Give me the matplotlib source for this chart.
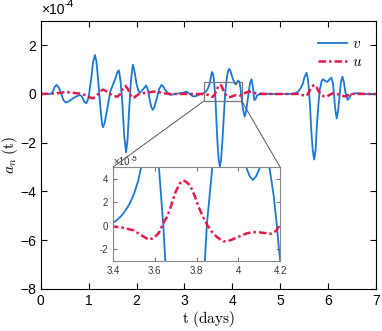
import matplotlib
matplotlib.use('Agg')
import matplotlib.pyplot as plt
from matplotlib.patches import Rectangle, ConnectionPatch

plt.rcParams['font.family'] = ['Liberation Sans', 'DejaVu Sans']
plt.rcParams['mathtext.fontset'] = 'cm'

# values, in units of 1e-4
t_v = [0.0, 0.2, 0.25, 0.29, 0.33, 0.37, 0.42, 0.47, 0.52, 0.57, 0.62, 0.72, 0.8, 0.84,
       0.87, 0.91, 0.95, 0.98, 1.0, 1.05, 1.09, 1.13, 1.16, 1.2, 1.25, 1.28, 1.30, 1.33,
       1.37, 1.45, 1.55, 1.60, 1.63, 1.66, 1.70, 1.74, 1.78, 1.81, 1.84, 1.88, 1.92, 1.95,
       2.0, 2.04, 2.07, 2.14, 2.20, 2.24, 2.27, 2.31, 2.34, 2.37, 2.42, 2.47, 2.52, 2.56,
       2.60, 2.70, 2.8, 2.9, 2.97, 3.04, 3.11, 3.18, 3.25, 3.33,
       3.40, 3.42, 3.44, 3.46, 3.48, 3.50, 3.52, 3.535, 3.56, 3.58, 3.60, 3.62, 3.64, 3.65,
       3.67, 3.69, 3.715, 3.74, 3.765, 3.79, 3.815, 3.84, 3.85, 3.875, 3.90, 3.93, 3.96,
       3.99, 4.02, 4.04, 4.055, 4.07, 4.085, 4.10, 4.12, 4.15, 4.17, 4.185, 4.195,
       4.22, 4.26, 4.29, 4.33, 4.37, 4.40, 4.43, 4.46, 4.49, 4.52, 4.6, 4.8, 5.0, 5.2,
       5.3, 5.38, 5.43, 5.47, 5.51, 5.55, 5.58, 5.60, 5.63, 5.65, 5.68, 5.71, 5.74, 5.77,
       5.80, 5.83, 5.87, 5.90, 5.95, 5.99, 6.03, 6.07, 6.10, 6.12, 6.15, 6.18, 6.21, 6.24,
       6.27, 6.30, 6.33, 6.36, 6.41, 6.45, 6.49, 6.6, 6.8, 7.0]
v = [0.0, 0.0, 0.1, 0.3, 0.37, 0.28, 0.05, -0.25, -0.35, -0.32, -0.25, -0.12, -0.05, -0.06,
     -0.15, -0.33, -0.38, -0.25, -0.1, 0.6, 1.3, 1.6, 1.35, 0.5, -0.7, -1.25, -1.37, -1.2,
     -0.8, 0.1, 0.6, 0.9, 0.97, 0.6, -0.3, -1.7, -2.4, -1.9, -0.8, 0.5, 1.2, 1.0,
     0.4, 0.12, 0.05, 0.2, 0.35, 0.15, -0.2, -0.55, -0.65, -0.55, -0.2, 0.2, 0.37, 0.3,
     0.15, -0.04, 0.0, 0.03, 0.05, 0.1, 0.0, -0.1, -0.08, 0.0,
     0.025, 0.05, 0.085, 0.13, 0.19, 0.27, 0.38, 0.5, 0.78, 0.9, 0.8, 0.49, 0.02, -0.29,
     -1.2, -2.0, -2.7, -2.97, -2.7, -2.0, -1.2, -0.29, 0.02, 0.49, 0.85, 1.03, 0.95,
     0.75, 0.58, 0.49, 0.42, 0.39, 0.42, 0.48, 0.55, 0.49, 0.25, 0.0, -0.2,
     -0.6, -0.93, -0.7, -0.1, 0.45, 0.6, 0.3, -0.25, -0.2, -0.05, 0.02, 0.0, 0.0, 0.0,
     0.02, 0.1, 0.25, 0.4, 0.7, 0.87, 0.6, 0.2, -0.7, -1.5, -2.3, -2.69, -2.3, -1.2,
     -0.4, 0.2, 0.55, 0.6, 0.52, 0.5, 0.6, 0.67, 0.45, 0.1, -0.6, -1.0, -0.7, -0.1,
     0.5, 0.71, 0.5, 0.1, -0.24, -0.15, 0.0, 0.03, 0.0, 0.0]

t_u = [0.0, 0.3, 0.45, 0.54, 0.65, 0.8, 0.95, 1.02, 1.09, 1.15, 1.2, 1.25, 1.30, 1.36,
       1.45, 1.53, 1.6, 1.66, 1.71, 1.77, 1.82, 1.87, 1.93, 1.99, 2.05, 2.2, 2.3, 2.38,
       2.45, 2.55, 2.7, 3.0, 3.3,
       3.40, 3.45, 3.50, 3.535, 3.57, 3.595, 3.62, 3.64, 3.66, 3.68, 3.70, 3.72, 3.735,
       3.75, 3.77, 3.79, 3.81, 3.83, 3.85, 3.87, 3.90, 3.93, 3.96, 4.0, 4.04, 4.07, 4.10,
       4.13, 4.16, 4.18, 4.20,
       4.25, 4.32, 4.4, 4.46, 4.52, 4.7, 5.4, 5.47, 5.54, 5.58, 5.62, 5.66, 5.71, 5.76,
       5.8, 5.86, 5.92, 5.97, 6.03, 6.1, 6.2, 6.28, 6.35, 6.42, 6.5, 7.0]
u = [0.0, 0.02, 0.06, 0.08, 0.05, 0.02, -0.05, -0.14, -0.18, -0.1, 0.0, 0.12, 0.18, 0.12,
     0.0, -0.09, -0.11, 0.0, 0.2, 0.33, 0.2, -0.05, -0.18, -0.08, 0.0, 0.05, 0.08, 0.1,
     0.08, 0.03, 0.0, 0.0, 0.0,
     -0.006, -0.018, -0.04, -0.08, -0.118, -0.105, -0.06, 0.02, 0.08, 0.18, 0.29, 0.36, 0.385,
     0.375, 0.34, 0.26, 0.16, 0.08, 0.01, -0.045, -0.1, -0.134, -0.125, -0.095, -0.065, -0.054, -0.056,
     -0.063, -0.068, -0.045, 0.008,
     0.03, 0.08, 0.1, 0.05, 0.0, 0.0, 0.0, -0.05, -0.08, 0.0, 0.15, 0.3, 0.37, 0.28,
     0.12, -0.04, -0.1, -0.11, -0.04, 0.03, 0.0, -0.07, -0.1, -0.05, 0.0, 0.0]

blue = '#1a78d6'
red = '#e8174a'
dashdot = (0, (3, 1.2, 1, 1.2))

fig = plt.figure(figsize=(3.82, 3.31), dpi=100)
ax = fig.add_axes([0.107, 0.127, 0.877, 0.810])
ax.plot(t_v, v, color=blue, lw=1.3, label='$v$')
ax.plot(t_u, u, color=red, lw=1.8, ls=dashdot, label='$u$')
ax.set_xlim(0, 7)
ax.set_ylim(-8, 3)
ax.set_yticks([-8, -6, -4, -2, 0, 2])
ax.set_xticks(range(8))
ax.tick_params(direction='in', top=True, right=True, labelsize=10, length=4)
ax.set_xlabel(r'$\mathrm{t\ (days)}$', fontsize=11, labelpad=1)
ax.set_ylabel(r'$a_n\ (\mathrm{t})$', fontsize=11, labelpad=0)
ax.text(0.0, 1.015, '×10', transform=ax.transAxes, fontsize=10, va='bottom')
ax.text(0.072, 1.045, '-4', transform=ax.transAxes, fontsize=7.5, va='bottom')
ax.legend(loc='upper right', frameon=False, fontsize=11, handlelength=1.9,
          handletextpad=0.3, labelspacing=0.25, bbox_to_anchor=(1.0, 0.99))

ax.add_patch(Rectangle((3.4, -0.3), 0.8, 0.8, fill=False, ec='#777777', lw=0.9, zorder=5))

axin = fig.add_axes([0.296, 0.2115, 0.437, 0.284])
axin.plot(t_v, v, color=blue, lw=1.3)
axin.plot(t_u, u, color=red, lw=1.8, ls=dashdot)
axin.set_xlim(3.4, 4.2)
axin.set_ylim(-0.3, 0.5)
axin.set_xticks([3.4, 3.6, 3.8, 4.0, 4.2])
axin.set_xticklabels(['3.4', '3.6', '3.8', '4', '4.2'])
axin.set_yticks([-0.2, 0.0, 0.2, 0.4])
axin.set_yticklabels(['-2', '0', '2', '4'])
axin.tick_params(direction='in', top=True, right=True, labelsize=7, length=3,
                 color='#777777', labelcolor='#333333')
for s in axin.spines.values():
    s.set_color('#888888')
axin.text(0.0, 1.0, '×10', transform=axin.transAxes, fontsize=7, va='bottom',
          color='#333333')
axin.text(0.105, 1.04, '-5', transform=axin.transAxes, fontsize=5.5, va='bottom',
          color='#333333')

for xd, xa in [(3.4, 0.0), (4.2, 1.0)]:
    con = ConnectionPatch(xyA=(xd, -0.3), coordsA=ax.transData,
                          xyB=(xa, 1.0), coordsB=axin.transAxes,
                          color='#555555', lw=0.7)
    fig.add_artist(con)

fig.savefig('out.png', dpi=100)
